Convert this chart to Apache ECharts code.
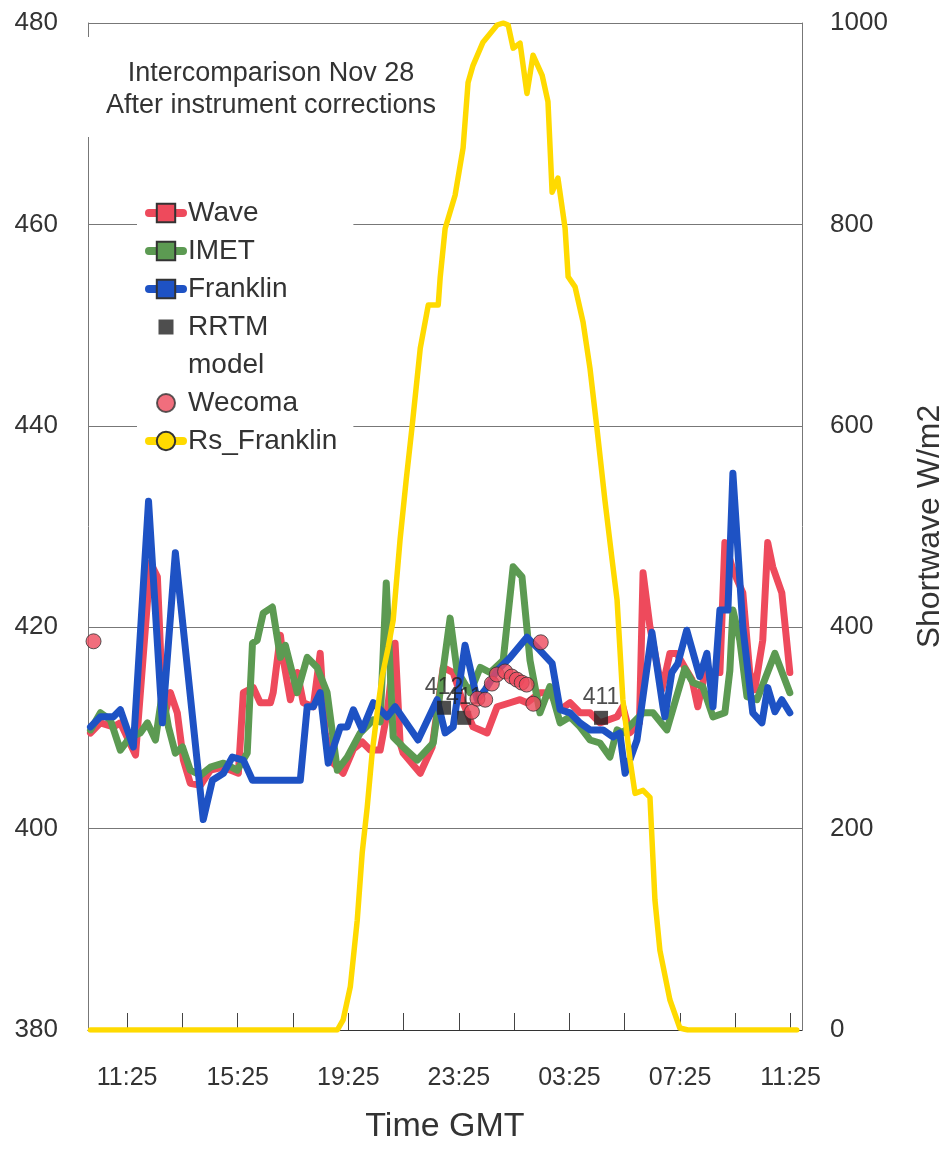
<!DOCTYPE html>
<html><head><meta charset="utf-8">
<script src="https://cdn.jsdelivr.net/npm/echarts@6/dist/echarts.min.js"></script>
<style>html,body{margin:0;padding:0;background:#fff}#c{width:949px;height:1149px}</style>
</head><body><div id="c"></div>
<script>
// time in decimal hours since 00:00 GMT Nov 28 (values > 24 fall on Nov 29)
const wave = [[10.09,409.5],[10.45,410.5],[10.92,410.1],[11.17,410.5],[11.72,407.3],[12.26,426.4],[12.51,425.0],[12.73,410.8],[12.98,413.5],[13.23,411.5],[13.45,406.8],[13.70,404.5],[14.07,404.3],[14.43,405.8],[14.90,406.1],[15.44,405.5],[15.62,413.5],[15.98,414.0],[16.23,412.5],[16.60,412.5],[16.70,413.5],[16.96,419.2],[17.07,416.7],[17.32,412.8],[17.57,415.5],[17.79,412.5],[18.15,412.1],[18.40,417.4],[18.58,409.5],[18.87,406.5],[19.23,405.5],[19.60,407.9],[19.92,408.6],[20.21,407.8],[20.57,407.8],[20.82,411.5],[21.11,418.4],[21.29,408.5],[21.40,407.5],[22.02,405.5],[22.45,408.1],[22.85,416.0],[23.21,415.5],[23.57,412.5],[23.93,410.1],[24.44,409.5],[24.80,412.1],[25.27,412.5],[25.63,412.8],[25.88,412.5],[26.35,413.5],[26.71,413.5],[27.08,411.8],[27.44,412.5],[27.80,411.5],[28.16,411.5],[28.52,410.5],[29.14,411.1],[29.35,412.1],[29.60,409.5],[29.95,410.5],[30.08,425.4],[30.33,420.0],[30.76,413.8],[31.05,417.4],[31.30,417.4],[31.59,416.0],[31.85,414.8],[32.06,412.1],[32.32,415.5],[32.68,415.5],[32.86,415.5],[33.04,428.4],[33.33,425.7],[33.69,423.4],[33.94,415.5],[34.12,413.8],[34.41,418.7],[34.59,428.4],[34.77,426.0],[35.10,423.4],[35.39,415.5]];
const imet = [[10.09,409.8],[10.45,411.5],[10.81,410.8],[11.17,407.8],[11.53,409.1],[11.89,409.5],[12.15,410.5],[12.44,408.8],[12.69,413.5],[12.91,410.1],[13.16,407.5],[13.42,408.1],[13.70,405.8],[14.07,405.3],[14.43,406.1],[14.90,406.5],[15.40,405.8],[15.76,407.5],[15.95,418.4],[16.12,418.7],[16.34,421.4],[16.67,422.0],[16.96,417.0],[17.14,418.2],[17.57,413.5],[17.93,417.0],[18.29,416.0],[18.65,413.5],[19.02,405.8],[19.38,407.1],[19.85,409.5],[20.32,410.8],[20.57,410.6],[20.79,424.4],[21.04,409.1],[21.40,408.1],[21.91,406.8],[22.49,408.5],[23.10,420.9],[23.35,415.7],[23.82,413.5],[24.19,416.0],[24.55,415.5],[25.02,416.7],[25.38,426.0],[25.70,425.0],[25.99,416.7],[26.35,411.5],[26.71,414.1],[27.08,410.5],[27.44,411.1],[27.80,410.1],[28.16,408.8],[28.52,408.5],[28.88,407.1],[29.14,409.8],[29.35,409.5],[30.08,411.5],[30.44,411.5],[30.94,409.8],[31.59,415.9],[31.88,414.5],[32.24,414.1],[32.61,411.1],[33.04,411.5],[33.22,415.7],[33.33,421.7],[33.58,418.7],[33.84,413.1],[34.20,412.8],[34.85,417.4],[35.39,413.5]];
const franklin = [[10.09,410.1],[10.45,411.1],[10.92,411.1],[11.17,411.8],[11.64,408.1],[12.19,432.5],[12.69,410.5],[13.16,427.4],[14.17,400.9],[14.50,404.8],[14.90,405.5],[15.22,407.1],[15.62,406.8],[15.95,404.8],[17.68,404.8],[17.93,412.1],[18.15,412.1],[18.40,413.5],[18.69,406.5],[19.13,410.1],[19.38,410.1],[19.60,411.8],[19.92,409.8],[20.32,412.5],[20.82,411.1],[21.11,412.1],[21.94,408.8],[22.63,412.8],[22.92,409.5],[23.21,410.1],[23.64,418.2],[24.08,412.8],[24.37,413.8],[24.80,415.7],[25.27,417.0],[25.88,419.0],[26.35,417.7],[26.79,416.4],[27.08,411.8],[27.44,411.5],[27.80,410.5],[28.16,409.8],[28.63,409.8],[28.99,409.1],[29.24,409.5],[29.43,405.5],[29.86,408.8],[30.40,419.5],[30.80,412.1],[30.87,411.1],[31.12,415.5],[31.34,416.4],[31.66,419.7],[32.13,415.1],[32.39,417.4],[32.61,412.1],[32.86,421.7],[33.15,421.7],[33.33,435.3],[33.69,420.0],[34.05,411.5],[34.38,410.5],[34.59,414.0],[34.85,411.6],[35.10,412.8],[35.39,411.5]];
const rrtm = [[22.88,412],[23.61,411],[28.56,411]];
const wecoma = [[10.20,418.6],[23.89,411.6],[24.09,412.9],[24.37,412.8],[24.61,414.4],[24.79,415.3],[25.09,415.6],[25.33,415.1],[25.51,414.8],[25.69,414.5],[25.87,414.3],[26.11,412.4],[26.38,418.5]];
const rsFranklin = [[10.09,0],[19.02,0],[19.23,10],[19.49,43],[19.74,109],[19.92,176],[20.10,221],[20.28,275],[20.46,315],[20.64,351],[20.86,380],[21.04,407],[21.29,487],[21.51,546],[21.72,598],[22.02,677],[22.31,720],[22.67,720],[22.74,747],[22.92,796],[23.28,829],[23.57,876],[23.75,941],[23.93,958],[24.29,981],[24.80,998],[25.02,1000],[25.20,998],[25.38,975],[25.63,980],[25.88,930],[26.10,968],[26.43,948],[26.64,922],[26.79,832],[27.00,846],[27.26,796],[27.37,748],[27.62,738],[27.91,703],[28.16,657],[28.41,598],[28.70,526],[28.96,467],[29.14,427],[29.35,328],[29.61,268],[29.79,235],[30.08,238],[30.33,231],[30.51,129],[30.69,79],[31.05,30],[31.41,2],[31.70,0],[35.64,0]];
const xTickHours = [11.41667,13.41667,15.41667,17.41667,19.41667,21.41667,23.41667,25.41667,27.41667,29.41667,31.41667,33.41667,35.41667];
const xLabelHours = [11.41667,15.41667,19.41667,23.41667,27.41667,31.41667,35.41667];
const titleLines = ['Intercomparison Nov 28','After instrument corrections'];

const FONT = '"Liberation Sans", Arial, Helvetica, sans-serif';
const TXT = '#333';
const fmtTime = v => { const t = Math.round(v*60); const h = Math.floor(t/60)%24; const m = t%60; return String(h).padStart(2,'0')+':'+String(m).padStart(2,'0'); };

const chart = echarts.init(document.getElementById('c'));
chart.setOption({
  animation:false,
  backgroundColor:'#fff',
  textStyle:{fontFamily:FONT},
  grid:{left:88,right:147,top:23,bottom:119,containLabel:false,outerBoundsMode:'none'},
  xAxis:{type:'value',min:10,max:35.83,
    axisLine:{show:true,lineStyle:{color:'#333',width:1}},
    axisTick:{show:true,inside:true,length:17,customValues:xTickHours,lineStyle:{color:'#444'}},
    axisLabel:{customValues:xLabelHours,formatter:fmtTime,fontSize:25,margin:36,color:TXT,fontFamily:FONT},
    splitLine:{show:false},
    name:'Time GMT',nameLocation:'middle',nameGap:80,nameTextStyle:{fontSize:34,color:TXT,fontFamily:FONT}},
  yAxis:[
    {type:'value',min:380,max:480,interval:20,
      axisLine:{show:true,lineStyle:{color:'#777'}},axisTick:{show:false},
      axisLabel:{fontSize:26,margin:30,color:TXT,fontFamily:FONT},
      splitLine:{show:true,lineStyle:{color:'#777',width:1}}},
    {type:'value',position:'right',min:0,max:1000,interval:200,
      axisLine:{show:true,lineStyle:{color:'#777'}},axisTick:{show:false},
      axisLabel:{fontSize:26,margin:28,color:TXT,fontFamily:FONT,formatter:v=>String(v)},
      splitLine:{show:false},
      name:'Shortwave W/m2',nameLocation:'middle',nameGap:112,nameRotate:90,
      nameTextStyle:{fontSize:32,color:TXT,fontFamily:FONT}}
  ],
  legend:{orient:'vertical',left:137,top:191,itemWidth:34,itemHeight:23,itemGap:2,
    padding:[4,16,4,8],backgroundColor:'#fff',selectedMode:false,
    lineStyle:{width:8,cap:'round'},
    textStyle:{fontSize:28,color:TXT,lineHeight:36,fontFamily:FONT},
    data:[
      {name:'Wave'},{name:'IMET'},{name:'Franklin'},
      {name:'RRTM',icon:'path://M0 0M23 23M4 4H19V19H4Z'},
      {name:'model',icon:'rect',itemStyle:{opacity:0}},
      {name:'Wecoma',icon:'path://M0 0M23 23M2.5 11.5A9 9 0 1 1 20.5 11.5A9 9 0 1 1 2.5 11.5Z'},
      {name:'Rs_Franklin'}
    ]},
  graphic:[
    {type:'rect',shape:{x:84,y:37,width:8,height:100},style:{fill:'#fff'},z:100},
    {type:'text',x:271,y:58,z:101,style:{text:titleLines.join('\n'),fontSize:27,fontFamily:FONT,lineHeight:32,fill:TXT,align:'center',verticalAlign:'top'}}
  ],
  series:[
    {type:'line',name:'Wave',data:wave,showSymbol:false,symbol:'rect',z:2,
      lineStyle:{width:7,color:'#EE4A5C',cap:'round',join:'round'},
      itemStyle:{color:'#EE4A5C',borderColor:'#333',borderWidth:1}},
    {type:'line',name:'IMET',data:imet,showSymbol:false,symbol:'rect',z:3,
      lineStyle:{width:7,color:'#5C9A52',cap:'round',join:'round'},
      itemStyle:{color:'#5C9A52',borderColor:'#333',borderWidth:1}},
    {type:'line',name:'Franklin',data:franklin,showSymbol:false,symbol:'rect',z:4,
      lineStyle:{width:7,color:'#1E52C4',cap:'round',join:'round'},
      itemStyle:{color:'#1E52C4',borderColor:'#333',borderWidth:1}},
    {type:'line',name:'Rs_Franklin',data:rsFranklin,yAxisIndex:1,showSymbol:false,symbol:'circle',z:5,
      lineStyle:{width:5.5,color:'#FFDA00',cap:'round',join:'round'},
      itemStyle:{color:'#FFDA00',borderColor:'#333',borderWidth:1}},
    {type:'scatter',name:'RRTM',data:rrtm,symbol:'rect',symbolSize:14,z:6,
      itemStyle:{color:'#222'},
      label:{show:true,position:'top',distance:2,formatter:p=>String(Math.round(p.value[1])),fontSize:23,color:'#222',fontFamily:FONT}},
    {type:'scatter',name:'model',data:[]},
    {type:'scatter',name:'Wecoma',data:wecoma,symbol:'circle',symbolSize:15,z:7,
      itemStyle:{color:'#EE4A5C',borderColor:'#333',borderWidth:1}}
  ]
});
</script></body></html>
